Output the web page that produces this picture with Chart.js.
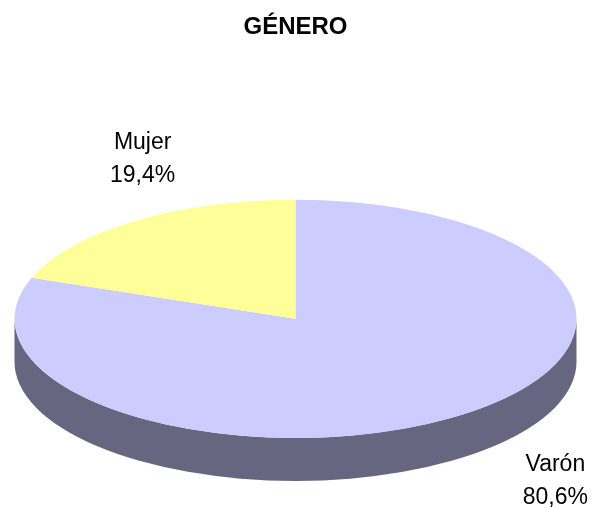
<!DOCTYPE html>
<html>
<head>
<meta charset="utf-8">
<script src="https://cdn.jsdelivr.net/npm/chart.js@4/dist/chart.umd.min.js"></script>
<style>
  html, body { margin: 0; padding: 0; background: #fff; }
  #wrap { width: 593px; height: 508px; }
</style>
</head>
<body>
<div id="wrap"><canvas id="myChart" width="593" height="508"></canvas></div>
<script>
const categories = ["Varón", "Mujer"];
const percents = [80.6, 19.4];
const percentLabels = ["80,6%", "19,4%"];

const topColors = ["#CCCCFF", "#FFFF99"];
const sideColors = ["#666680", "#80804C"];

// 3D look: flatten the pie and give it a thickness
const squash = 0.424;
const depth = 43;
// label offsets from the outer edge of each slice
const labelShift = [[99, 22], [8, -62]];

function flatten(ctx, x, y) {
  ctx.translate(x, y);
  ctx.scale(1, squash);
  ctx.translate(-x, -y);
}

const tilt = {
  id: "tilt",
  beforeDatasetsDraw(chart) {
    const ctx = chart.ctx;
    const arcs = chart.getDatasetMeta(0).data;
    // front wall: only the part of each slice facing the viewer (0..PI)
    arcs.forEach(function (a, i) {
      const rx = a.outerRadius, ry = a.outerRadius * squash;
      [-2 * Math.PI, 0, 2 * Math.PI].forEach(function (k) {
        const s = Math.max(a.startAngle, k);
        const e = Math.min(a.endAngle, k + Math.PI);
        if (e <= s) return;
        ctx.fillStyle = sideColors[i];
        ctx.beginPath();
        ctx.ellipse(a.x, a.y, rx, ry, 0, s, e);
        ctx.ellipse(a.x, a.y + depth, rx, ry, 0, e, s, true);
        ctx.closePath();
        ctx.fill();
      });
    });
    ctx.save();
    flatten(ctx, arcs[0].x, arcs[0].y);
  },
  afterDatasetsDraw(chart) {
    const ctx = chart.ctx;
    ctx.restore();
    const arcs = chart.getDatasetMeta(0).data;
    ctx.save();
    ctx.fillStyle = "#000";
    ctx.font = "23px 'Liberation Sans', Arial, sans-serif";
    ctx.textAlign = "center";
    ctx.textBaseline = "middle";
    arcs.forEach(function (a, i) {
      const mid = (a.startAngle + a.endAngle) / 2;
      let px = a.x + a.outerRadius * Math.cos(mid);
      let py = a.y + a.outerRadius * squash * Math.sin(mid);
      if (Math.sin(mid) > 0) py += depth;
      px += labelShift[i][0];
      py += labelShift[i][1];
      ctx.fillText(categories[i], px, py - 16.5);
      ctx.fillText(percentLabels[i], px, py + 16.5);
    });
    ctx.restore();
  }
};

const ctx = document.getElementById("myChart");

new Chart(ctx, {
  type: "pie",
  data: {
    labels: categories,
    datasets: [
      {
        data: percents,
        backgroundColor: topColors,
        borderWidth: 0,
        radius: 281,
      },
    ],
  },
  options: {
    responsive: false,
    animation: false,
    events: [],
    layout: {
      padding: { top: 0, right: 2, bottom: 0, left: 0 },
    },
    plugins: {
      legend: { display: false },
      tooltip: { enabled: false },
      title: {
        display: true,
        text: "GÉNERO",
        color: "#000",
        font: { family: "'Liberation Sans', Arial, sans-serif", size: 24, weight: "bold" },
        padding: { top: 12.5, bottom: 88.3 },
      },
    },
  },
  plugins: [tilt],
});
</script>
</body>
</html>
